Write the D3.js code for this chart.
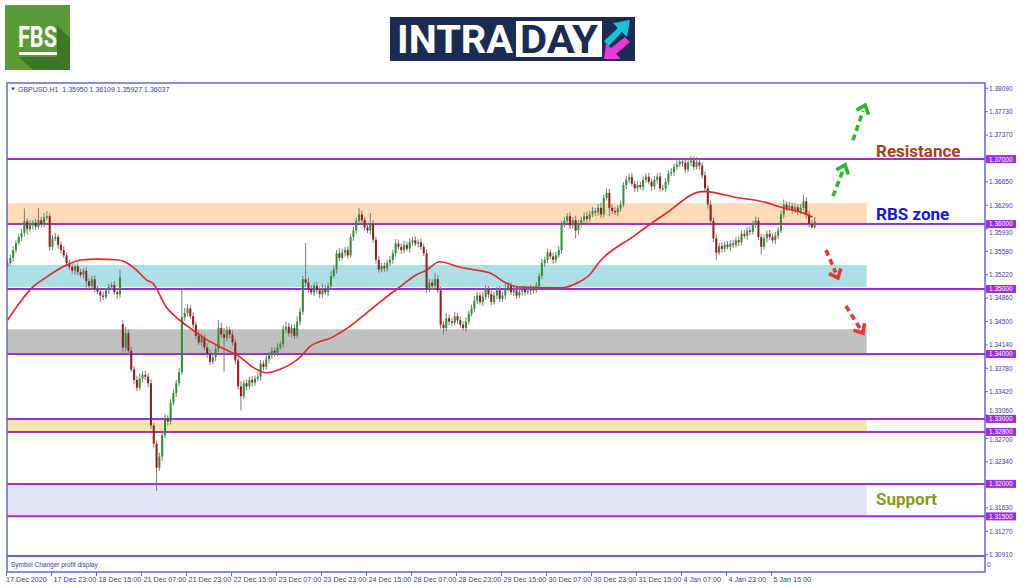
<!DOCTYPE html>
<html>
<head>
<meta charset="utf-8">
<script src="https://cdn.jsdelivr.net/npm/d3@7"></script>
<style>
  body { margin: 0; background: #fff; }
  svg { display: block; font-family: "Liberation Sans", Arial, sans-serif; }
</style>
</head>
<body>
<svg id="chart"></svg>
<script>
// ---- data (prices in pips above 1.30000) ----
const header = "GBPUSD,H1  1.35950 1.36109 1.35927 1.36037";
const firstOpen = 535;
const gapOpens = [[41, 446]];

const closes = [
  540, 548, 560, 571, 580, 586, 604, 592, 598, 602,
  596, 606, 600, 610, 612, 565, 578, 580, 568, 560,
  552, 540, 534, 528, 535, 526, 522, 528, 512, 505,
  515, 500, 496, 490, 488, 498, 503, 506, 495, 492,
  518, 410, 432, 405, 376, 360, 348, 362, 368, 365,
  355, 290, 262, 225, 242, 275, 300, 296, 325, 340,
  355, 372, 457, 463, 470, 458, 445, 428, 418, 425,
  410, 400, 388, 395, 408, 440, 430, 425, 437, 430,
  418, 390, 350, 335, 355, 350, 360, 356, 362, 365,
  385, 380, 392, 398, 405, 402, 410, 415, 438, 442,
  432, 440, 428, 450, 465, 515, 510, 500, 495, 505,
  498, 492, 500, 495, 505, 520, 530, 555, 548, 556,
  560, 552, 580, 590, 605, 615, 606, 595, 590, 600,
  576, 545, 530, 535, 532, 540, 545, 555, 570, 565,
  560, 568, 562, 572, 575, 570, 572, 565, 555, 500,
  510, 505, 515, 498, 445, 440, 455, 450, 448, 458,
  452, 445, 440, 450, 462, 470, 482, 490, 480, 488,
  500, 492, 480, 490, 498, 485, 490, 500, 505, 495,
  498, 490, 496, 500, 495, 497, 500, 498, 505, 520,
  540, 545, 556, 550, 545, 552, 560, 600, 605, 612,
  598, 606, 590, 600, 606, 612, 608, 615, 620, 618,
  625, 615, 640, 648, 625, 620, 618, 624, 630, 660,
  668, 672, 662, 655, 660, 657, 668, 673, 665, 658,
  668, 673, 655, 655, 665, 678, 680, 688, 692, 696,
  694, 684, 695, 698, 688, 695, 690, 675, 655, 630,
  605, 578, 556, 566, 562, 568, 565, 570, 568, 575,
  572, 585, 582, 590, 588, 600, 605, 580, 565, 578,
  585, 580, 575, 582, 590, 615, 630, 625, 628, 622,
  626, 620, 625, 635, 615, 600, 595, 604
];

const upWicks = [
  4, 5, 6, 4, 5, 6, 20, 5, 8, 4,
  6, 19, 5, 7, 8, 4, 5, 6, 4, 5,
  6, 4, 5, 5, 4, 6, 5, 4, 6, 5,
  5, 6, 4, 5, 6, 4, 5, 4, 6, 5,
  12, 6, 10, 5, 6, 5, 6, 8, 5, 6,
  5, 6, 4, 5, 6, 5, 8, 6, 5, 6,
  5, 6, 42, 8, 6, 5, 6, 5, 8, 6,
  5, 6, 7, 5, 6, 12, 8, 10, 6, 5,
  6, 5, 6, 8, 5, 6, 5, 6, 5, 7,
  6, 5, 6, 5, 6, 5, 7, 5, 6, 8,
  6, 5, 6, 8, 6, 5, 56, 8, 6, 5,
  6, 5, 8, 6, 5, 7, 6, 5, 8, 6,
  5, 6, 5, 6, 5, 10, 6, 5, 7, 17,
  6, 5, 6, 5, 6, 5, 6, 5, 7, 6,
  5, 6, 5, 6, 5, 6, 5, 6, 5, 6,
  6, 5, 10, 6, 5, 6, 8, 6, 5, 7,
  5, 6, 5, 6, 5, 6, 7, 6, 5, 8,
  6, 5, 7, 6, 5, 6, 5, 8, 6, 5,
  6, 5, 6, 5, 6, 5, 6, 5, 6, 5,
  6, 5, 6, 5, 6, 5, 6, 5, 6, 5,
  6, 5, 7, 6, 5, 6, 7, 5, 6, 5,
  6, 8, 5, 7, 6, 5, 6, 5, 6, 5,
  6, 5, 6, 5, 6, 5, 6, 5, 6, 5,
  6, 5, 6, 5, 6, 5, 6, 5, 6, 5,
  6, 5, 7, 7, 6, 8, 6, 5, 6, 5,
  6, 5, 6, 5, 6, 5, 6, 5, 6, 5,
  6, 5, 6, 5, 6, 5, 7, 6, 5, 6,
  5, 6, 5, 6, 5, 6, 8, 5, 6, 5,
  6, 5, 6, 10, 6, 5, 6, 7
];

const downWicks = [
  5, 4, 6, 5, 4, 6, 5, 8, 4, 6,
  5, 4, 6, 5, 4, 6, 5, 4, 6, 5,
  4, 6, 5, 4, 6, 5, 4, 6, 10, 5,
  6, 5, 4, 10, 5, 4, 6, 5, 4, 6,
  5, 8, 6, 5, 4, 6, 5, 4, 6, 5,
  6, 5, 6, 36, 5, 6, 5, 6, 5, 4,
  6, 5, 4, 6, 5, 4, 6, 5, 4, 6,
  5, 6, 5, 4, 6, 5, 6, 52, 5, 6,
  5, 6, 5, 22, 5, 6, 5, 6, 5, 4,
  6, 5, 4, 6, 5, 6, 5, 4, 6, 5,
  5, 6, 5, 4, 6, 5, 6, 5, 4, 6,
  5, 6, 5, 4, 6, 5, 4, 6, 5, 4,
  6, 5, 4, 6, 5, 4, 6, 5, 4, 6,
  5, 6, 5, 4, 6, 5, 4, 6, 5, 4,
  6, 5, 4, 6, 5, 4, 6, 5, 4, 6,
  5, 6, 5, 4, 6, 10, 5, 6, 5, 4,
  6, 5, 4, 6, 5, 4, 6, 5, 4, 6,
  5, 6, 5, 4, 6, 5, 4, 6, 5, 4,
  6, 5, 4, 6, 5, 4, 6, 5, 4, 6,
  5, 6, 5, 4, 6, 5, 4, 6, 5, 4,
  6, 5, 12, 6, 5, 4, 6, 5, 4, 6,
  5, 6, 5, 4, 13, 5, 4, 6, 5, 4,
  6, 5, 4, 6, 5, 4, 6, 5, 4, 6,
  5, 6, 5, 4, 6, 5, 4, 6, 5, 4,
  6, 5, 4, 6, 5, 4, 6, 5, 4, 6,
  5, 6, 11, 4, 6, 5, 4, 6, 5, 4,
  6, 5, 4, 6, 5, 4, 6, 5, 12, 4,
  6, 5, 4, 6, 5, 4, 6, 5, 4, 6,
  5, 6, 5, 4, 6, 5, 2, 2
];

// moving average, read as [bar, pips]
const maPoints = [
  [0, 452], [9, 503], [12.4, 514], [21, 537], [26.7, 545], [31.6, 546], [38.8, 545],
  [41.6, 542], [45.9, 529], [49.4, 514], [51.6, 509], [56.5, 472], [61.2, 452],
  [65.8, 437], [70.8, 422], [77.9, 406], [82.5, 396], [87.1, 380], [92.1, 371],
  [96.7, 376], [101.3, 386], [103.8, 394], [107.4, 411], [115.6, 426], [121.6, 442],
  [127.6, 463], [133.3, 483], [139.4, 503], [145.4, 522], [149, 529], [153.6, 542],
  [160.7, 534], [166.8, 529], [171.4, 525], [177.4, 509], [182, 503], [192.7, 502],
  [197.3, 502], [202.3, 509], [207, 522], [210.5, 542], [222.2, 580], [234.3, 617],
  [247, 650], [248.5, 650], [257.8, 642], [269.9, 633], [275.6, 625], [281.6, 619],
  [286.2, 611]
];

const levels = [1.37, 1.36, 1.35, 1.34, 1.33, 1.328, 1.32, 1.315];
const levelLabels = ["1.37000", "1.36000", "1.35000", "1.34000", "1.33000", "1.32800", "1.32000", "1.31500"];
const zoneBounds = [[1.3600, 1.3632], [1.3503, 1.3537], [1.3400, 1.3438], [1.3280, 1.3300], [1.3150, 1.3200]];
const priceTicks = ["1.38090", "1.37730", "1.37370", "1.36650", "1.36290", "1.35930", "1.35580",
  "1.35220", "1.34860", "1.34500", "1.34140", "1.33780", "1.33420", "1.33060", "1.32700",
  "1.32340", "1.31630", "1.31270", "1.30910"];
const timeLabels = ["17 Dec 2020", "17 Dec 23:00", "18 Dec 15:00", "21 Dec 07:00", "21 Dec 23:00",
  "22 Dec 15:00", "23 Dec 07:00", "23 Dec 23:00", "24 Dec 15:00", "28 Dec 07:00", "28 Dec 23:00",
  "29 Dec 15:00", "30 Dec 07:00", "30 Dec 23:00", "31 Dec 15:00", "4 Jan 07:00", "4 Jan 23:00",
  "5 Jan 15:00"];
const notes = [["Resistance", 1.3701], ["RBS zone", 1.3604], ["Support", 1.3166]];
// arrows: [fromBar, fromPips, toBar, toPips]
const upArrows = [[293.5, 643, 297.8, 691], [300.6, 729, 304.9, 783]];
const downArrows = [[291, 560, 295.3, 517], [298.1, 474, 304.2, 432]];

// ---- layout ----
const width = 1024, height = 587;
const plot = { left: 7, top: 83, right: 985, bottom: 556 };
const sub = { top: 556, bottom: 572 };

const svg = d3.select("#chart").attr("width", width).attr("height", height);

const x = d3.scaleLinear().domain([0, 347]).range([7.5, 7.5 + 347 * 2.8125]);
const y = d3.scaleLinear().domain([1.3091, 1.3809]).range([554.7, 88.3]);
const py = p => y(1.3 + p / 10000);

const frameColor = "#6464d6";
const textColor = "#3a3aa0";
const levelColor = "#9b30d8";

// ---- logos ----
const fbs = svg.append("g");
fbs.append("rect").attr("x", 5).attr("y", 5).attr("width", 65).attr("height", 65).attr("fill", "#5a9a38");
fbs.append("polygon")
  .attr("points", "57,25 70,38 70,70 33,70 19,57 57,57")
  .attr("fill", "#3f7526");
fbs.append("text").attr("x", 18).attr("y", 47)
  .attr("font-family", "Roboto, sans-serif").attr("font-weight", "bold")
  .attr("font-size", 29).attr("fill", "#fff")
  .attr("textLength", 39).attr("lengthAdjust", "spacingAndGlyphs")
  .text("FBS");
fbs.append("rect").attr("x", 19).attr("y", 52).attr("width", 38).attr("height", 3).attr("fill", "#fff");

const intra = svg.append("g");
intra.append("rect").attr("x", 390).attr("y", 17).attr("width", 245).attr("height", 44).attr("fill", "#1b2b52");
intra.append("text").attr("x", 397).attr("y", 53)
  .attr("font-family", "Roboto, sans-serif").attr("font-weight", "bold")
  .attr("font-size", 39).attr("fill", "#fff")
  .attr("textLength", 116).attr("lengthAdjust", "spacingAndGlyphs")
  .text("INTRA");
intra.append("rect").attr("x", 516).attr("y", 21).attr("width", 86).attr("height", 36).attr("fill", "#fff");
intra.append("text").attr("x", 520).attr("y", 53)
  .attr("font-family", "Roboto, sans-serif").attr("font-weight", "bold")
  .attr("font-size", 39).attr("fill", "#1b2b52")
  .attr("textLength", 78).attr("lengthAdjust", "spacingAndGlyphs")
  .text("DAY");
intra.append("polygon")
  .attr("points", "604,41 618,28 613,23 630,20 627,37 622,32 609,46")
  .attr("fill", "#19c3d6");
intra.append("polygon")
  .attr("points", "630,42 616,54 621,59 604,59 606,43 611,48 625,37")
  .attr("fill", "#e83ad6");

// ---- chart frame ----
svg.append("defs").append("clipPath").attr("id", "plotClip")
  .append("rect")
  .attr("x", plot.left).attr("y", plot.top)
  .attr("width", plot.right - plot.left).attr("height", plot.bottom - plot.top);

const g = svg.append("g").attr("clip-path", "url(#plotClip)");

// zones
const zoneColors = ["#fddcbb", "#ade0e6", "#c0c0c0", "#f3e7ae", "#e4e4f8"];
g.selectAll(".zone").data(zoneBounds).join("rect")
  .attr("class", "zone")
  .attr("x", plot.left)
  .attr("width", x(305.5) - plot.left)
  .attr("y", d => y(d[1]))
  .attr("height", d => y(d[0]) - y(d[1]))
  .attr("fill", (d, i) => zoneColors[i]);

// level lines
g.selectAll(".level").data(levels).join("line")
  .attr("class", "level")
  .attr("x1", plot.left).attr("x2", plot.right)
  .attr("y1", d => y(d)).attr("y2", d => y(d))
  .attr("stroke", levelColor).attr("stroke-width", 2);

// candles
const candles = closes.map((c, i) => {
  let o = i === 0 ? firstOpen : closes[i - 1];
  gapOpens.forEach(([k, v]) => { if (k === i) o = v; });
  const hi = Math.max(o, c) + (upWicks[i] ?? 4);
  const lo = Math.min(o, c) - (downWicks[i] ?? 4);
  return { i, o, c, hi, lo };
});

g.selectAll(".wick").data(candles).join("line")
  .attr("class", "wick")
  .attr("x1", d => x(d.i)).attr("x2", d => x(d.i))
  .attr("y1", d => py(d.hi)).attr("y2", d => py(d.lo))
  .attr("stroke", "#7a7a7a").attr("stroke-width", 1);

g.selectAll(".body").data(candles).join("rect")
  .attr("class", "body")
  .attr("x", d => x(d.i) - 1)
  .attr("width", 2)
  .attr("y", d => py(Math.max(d.o, d.c)))
  .attr("height", d => Math.max(1, Math.abs(py(d.o) - py(d.c))))
  .attr("fill", d => d.c >= d.o ? "#2f8f35" : "#8c1d1d");

// moving average
g.append("path")
  .datum(maPoints)
  .attr("d", d3.line().x(d => x(d[0])).y(d => py(d[1])).curve(d3.curveMonotoneX))
  .attr("fill", "none").attr("stroke", "#e0262a").attr("stroke-width", 1.6);

// notes
const noteColors = ["#a8401c", "#1717d0", "#8c9820"];
svg.selectAll(".note").data(notes).join("text")
  .attr("class", "note")
  .attr("x", x(308.8))
  .attr("y", d => y(d[1]) - 1)
  .attr("font-family", "Roboto, sans-serif").attr("font-weight", "bold")
  .attr("font-size", 17)
  .attr("fill", (d, i) => noteColors[i])
  .text(d => d[0]);

// arrows
function drawArrow(a, color) {
  const x1 = x(a[0]), y1 = py(a[1]), x2 = x(a[2]), y2 = py(a[3]);
  const ang = Math.atan2(y2 - y1, x2 - x1);
  const back = 6;
  svg.append("line")
    .attr("x1", x1).attr("y1", y1)
    .attr("x2", x2 - back * Math.cos(ang)).attr("y2", y2 - back * Math.sin(ang))
    .attr("stroke", color).attr("stroke-width", 3.6)
    .attr("stroke-dasharray", "6,4");
  const len = 10, spread = 0.7;
  const pts = [
    [x2 - len * Math.cos(ang - spread), y2 - len * Math.sin(ang - spread)],
    [x2, y2],
    [x2 - len * Math.cos(ang + spread), y2 - len * Math.sin(ang + spread)]
  ];
  svg.append("polyline")
    .attr("points", pts.map(p => p.join(",")).join(" "))
    .attr("fill", "none").attr("stroke", color).attr("stroke-width", 3.6)
    .attr("stroke-linejoin", "miter");
}
upArrows.forEach(a => drawArrow(a, "#2db52d"));
downArrows.forEach(a => drawArrow(a, "#e53535"));

// frame
svg.append("rect")
  .attr("x", plot.left).attr("y", plot.top)
  .attr("width", plot.right - plot.left).attr("height", sub.bottom - plot.top)
  .attr("fill", "none").attr("stroke", frameColor).attr("stroke-width", 1.5);
svg.append("line")
  .attr("x1", plot.left).attr("x2", plot.right)
  .attr("y1", sub.top).attr("y2", sub.top)
  .attr("stroke", frameColor).attr("stroke-width", 2);

// header
svg.append("path").attr("d", "M11,87.5 L15,87.5 L13,90.5 Z").attr("fill", textColor);
svg.append("text").attr("x", 18).attr("y", 91.5)
  .attr("font-size", 7).attr("fill", textColor)
  .attr("xml:space", "preserve")
  .text(header);

svg.append("text").attr("x", 11).attr("y", 566.5)
  .attr("font-size", 6.5).attr("fill", textColor)
  .text("Symbol Changer profit display");
svg.append("text").attr("x", 987).attr("y", 567)
  .attr("font-size", 6.5).attr("fill", textColor)
  .text("0");

// price axis ticks (labels that would sit under a level box are pushed just clear of it)
const ticks = svg.append("g");
priceTicks.forEach(t => {
  const yy = y(+t);
  let ty = yy;
  levels.forEach(lv => {
    const d = yy - y(lv);
    if (Math.abs(d) < 8) ty = y(lv) + (d >= 0 ? 8.2 : -8.2);
  });
  ticks.append("line").attr("x1", plot.right).attr("x2", plot.right + 3)
    .attr("y1", yy).attr("y2", yy).attr("stroke", frameColor);
  ticks.append("text").attr("x", plot.right + 4).attr("y", ty + 2.3)
    .attr("font-size", 6.5).attr("fill", textColor).text(t);
});

// level boxes
levels.forEach((lv, i) => {
  const yy = y(lv);
  svg.append("rect").attr("x", plot.right + 1).attr("y", yy - 4)
    .attr("width", 30).attr("height", 8).attr("fill", levelColor);
  svg.append("text").attr("x", plot.right + 4).attr("y", yy + 2.4)
    .attr("font-size", 6.5).attr("fill", "#fff").text(levelLabels[i]);
});

// time axis
timeLabels.forEach((t, k) => {
  const xx = x(16 * k) - 1;
  svg.append("line").attr("x1", xx).attr("x2", xx)
    .attr("y1", sub.bottom).attr("y2", sub.bottom + 4).attr("stroke", frameColor);
  svg.append("text").attr("x", k === 0 ? xx - 0.5 : xx + 2).attr("y", 581.5)
    .attr("font-size", 7.2).attr("fill", textColor).text(t);
});
</script>
</body>
</html>
